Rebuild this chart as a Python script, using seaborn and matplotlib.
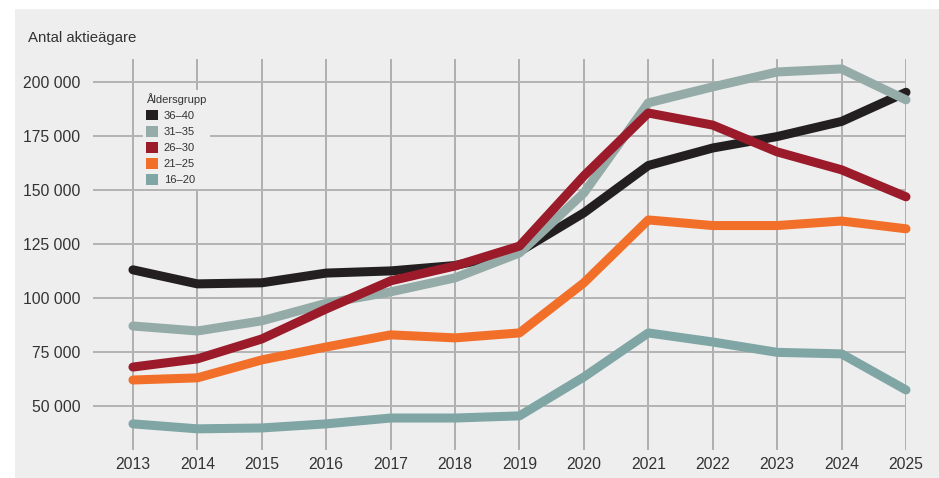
import numpy as np
import pandas as pd
import matplotlib
matplotlib.use('Agg')
import matplotlib.pyplot as plt
from matplotlib.patches import Patch, Rectangle
import seaborn as sns

years = list(range(2013, 2026))
groups = ['36–40', '31–35', '26–30', '21–25', '16–20']
colors = ['#231f20', '#95aba7', '#9b1b2a', '#f26f2a', '#7fa5a5']

# antal aktieägare per åldersgrupp
v36_40 = [113000, 106500, 107000, 111500, 112500, 115000, 121500, 139400, 161300, 169400, 174700, 181700, 195200]
v31_35 = [87000, 84700, 89400, 97500, 102800, 109300, 120800, 148600, 190300, 197700, 204600, 206000, 191700]
v26_30 = [68000, 71800, 81000, 94900, 107900, 114800, 124000, 156500, 185600, 180000, 167600, 159300, 146800]
v21_25 = [62000, 63000, 71300, 77300, 82900, 81500, 83800, 107000, 136100, 133500, 133500, 135600, 132000]
v16_20 = [41700, 39400, 39800, 41700, 44400, 44400, 45400, 63400, 83800, 79600, 74800, 74100, 57400]

y_ticks = [50000, 75000, 100000, 125000, 150000, 175000, 200000]
y_labels = ['50 000', '75 000', '100 000', '125 000', '150 000', '175 000', '200 000']

series = [v36_40, v31_35, v26_30, v21_25, v16_20]
df = pd.concat([pd.DataFrame({'År': years, 'Antal': s, 'Åldersgrupp': g})
                for g, s in zip(groups, series)])

panel = '#edeeed'
sns.set_style('white')
plt.rcParams['font.family'] = ['Liberation Sans', 'DejaVu Sans']

fig = plt.figure(figsize=(9.39, 4.78), dpi=100)
fig.patch.set_facecolor('white')
fig.patches.append(Rectangle((15 / 939, 0), 1, 1 - 9 / 478, transform=fig.transFigure,
                             facecolor=panel, edgecolor='none', zorder=-10))

ax = fig.add_axes([93 / 939, 28 / 478, (906 - 93) / 939, (450 - 59) / 478])
ax.set_facecolor(panel)
ax.patch.set_alpha(0)

# svart underst, rött överst (som i originalet)
for g, c in zip(groups, colors):
    sns.lineplot(data=df[df['Åldersgrupp'] == g], x='År', y='Antal', color=c,
                 linewidth=6.5, solid_capstyle='round', solid_joinstyle='round',
                 clip_on=False, ax=ax, legend=False, zorder=3)

ax.set_xlim(2012.38, 2025)
ax.set_ylim(29600, 210600)
ax.set_xticks(years)
ax.set_xticklabels([str(y) for y in years])
ax.set_yticks(y_ticks)
ax.set_yticklabels(y_labels)
ax.set_xlabel('')
ax.set_ylabel('')
for s in ax.spines.values():
    s.set_visible(False)
ax.tick_params(axis='both', length=0, labelsize=11.3, colors='#333333')
ax.tick_params(axis='y', pad=9)
ax.tick_params(axis='x', pad=5)
ax.grid(axis='y', color='#b3b3b3', linewidth=1.4, zorder=0)
ax.grid(axis='x', color='#9e9e9e', linewidth=1.1, zorder=0)
ax.set_axisbelow(True)

fig.text(28 / 939, 1 - 38 / 478, 'Antal aktieägare', fontsize=10.8, color='#333333',
         va='center', ha='left')

handles = [Patch(facecolor=c, edgecolor='none', label=g) for g, c in zip(groups, colors)]
leg = ax.legend(handles=handles, title='Åldersgrupp', loc='upper left',
                bbox_to_anchor=(137 / 939, 1 - 84 / 478), bbox_transform=fig.transFigure,
                fontsize=8, title_fontsize=8, frameon=True, facecolor=panel,
                edgecolor='none', framealpha=1, handlelength=1.1, handleheight=1.1,
                handletextpad=0.5, labelspacing=0.45, borderpad=0.3, alignment='left')
leg.get_title().set_color('#333333')
for t in leg.get_texts():
    t.set_color('#333333')
leg.set_zorder(5)

fig.savefig('out.png', dpi=100, facecolor='white')
